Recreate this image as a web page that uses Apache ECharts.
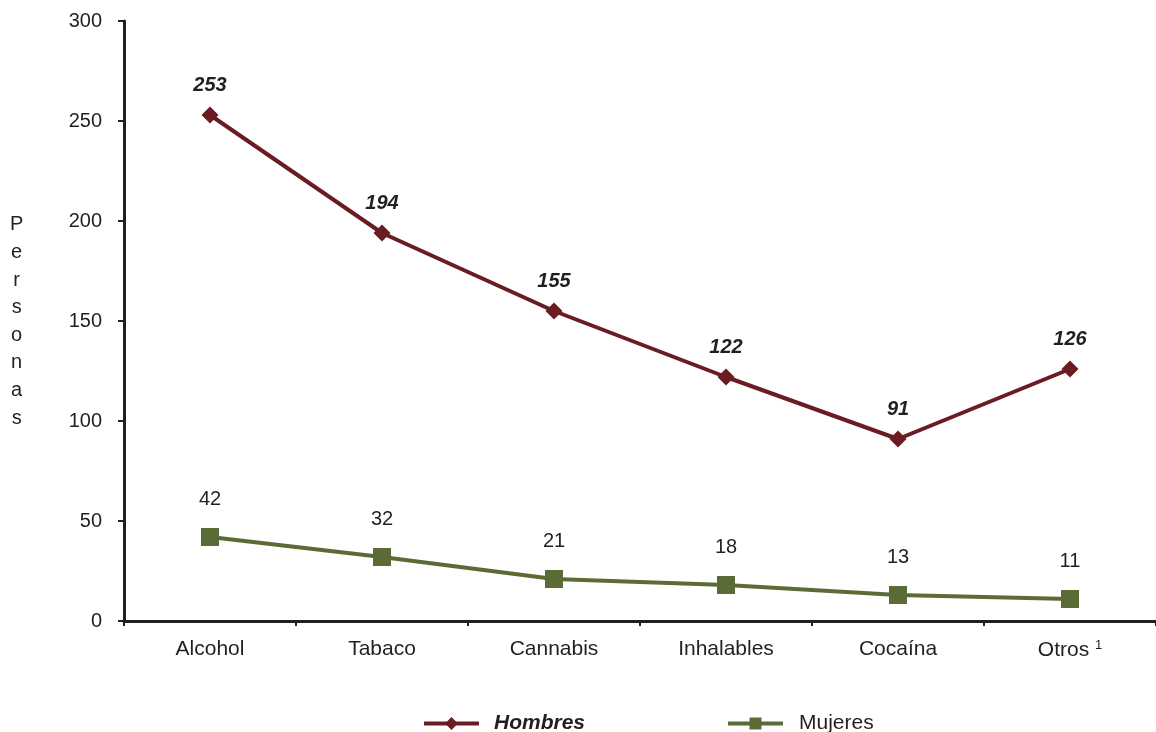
<!DOCTYPE html>
<html>
<head>
<meta charset="utf-8">
<script src="https://cdn.jsdelivr.net/npm/echarts@6/dist/echarts.min.js"></script>
<style>html,body{margin:0;padding:0;background:#fff}#c{width:1156px;height:732px}</style>
</head>
<body>
<div id="c"></div>
<script>
var categories = ['Alcohol', 'Tabaco', 'Cannabis', 'Inhalables', 'Cocaína', 'Otros'];
var hombres = [253, 194, 155, 122, 91, 126];
var mujeres = [42, 32, 21, 18, 13, 11];
var yTicks = [0, 50, 100, 150, 200, 250, 300];

var font = '"Liberation Sans", Arial, sans-serif';
var dark = '#231f20';
var cH = '#6a1c22';
var cM = '#5a6b35';
var chart = echarts.init(document.getElementById('c'));
chart.setOption({
  animation: false,
  textStyle: { fontFamily: font },
  grid: { left: 124, top: 21, right: -4, bottom: 111, containLabel: false },
  graphic: [{
    type: 'text', left: 10, top: 211,
    style: { text: 'P\ne\nr\ns\no\nn\na\ns', fill: dark, font: '20px ' + font, lineHeight: 27.6, textAlign: 'center' }
  }],
  legend: [{
    left: 417, top: 708, itemWidth: 55, itemHeight: 16, itemGap: 10,
    lineStyle: { width: 4 },
    data: [{ name: 'Hombres', textStyle: { fontWeight: 'bold', fontStyle: 'italic' } }],
    textStyle: { fontSize: 21, color: dark, fontFamily: font, padding: [0, 0, 0, 10] }
  }, {
    left: 721, top: 708, itemWidth: 55, itemHeight: 15, itemGap: 10,
    lineStyle: { width: 4 },
    data: ['Mujeres'],
    textStyle: { fontSize: 21, color: dark, fontFamily: font, padding: [0, 0, 0, 11] }
  }],
  xAxis: {
    type: 'category', data: categories, boundaryGap: true,
    axisLine: { lineStyle: { color: dark, width: 3 } },
    axisTick: { show: true, length: 5, lineStyle: { color: dark, width: 2 } },
    axisLabel: {
      color: dark, fontSize: 21, margin: 18, fontFamily: font,
      formatter: function (v) { return v === 'Otros' ? 'Otros {sup|1}' : v; },
      rich: { sup: { fontSize: 13, verticalAlign: 'top', padding: [0, 0, 10, 0], color: dark } }
    }
  },
  yAxis: {
    type: 'value', min: 0, max: 300, interval: 50,
    axisLine: { show: true, lineStyle: { color: dark, width: 3 } },
    axisTick: { show: true, length: 6, lineStyle: { color: dark, width: 2 } },
    splitLine: { show: false },
    axisLabel: { color: dark, fontSize: 20, margin: 22, fontFamily: font,
      formatter: function (v) { return yTicks.indexOf(v) >= 0 ? String(v) : ''; } }
  },
  series: [{
    name: 'Hombres', type: 'line', data: hombres,
    symbol: 'diamond', symbolSize: 17,
    lineStyle: { color: cH, width: 4 },
    itemStyle: { color: cH },
    label: { show: true, position: 'top', distance: 11, color: dark, fontSize: 20,
      fontWeight: 'bold', fontStyle: 'italic', fontFamily: font }
  }, {
    name: 'Mujeres', type: 'line', data: mujeres,
    symbol: 'rect', symbolSize: 18,
    lineStyle: { color: cM, width: 4 },
    itemStyle: { color: cM },
    label: { show: true, position: 'top', distance: 19, color: dark, fontSize: 20, fontFamily: font }
  }]
});
</script>
</body>
</html>
